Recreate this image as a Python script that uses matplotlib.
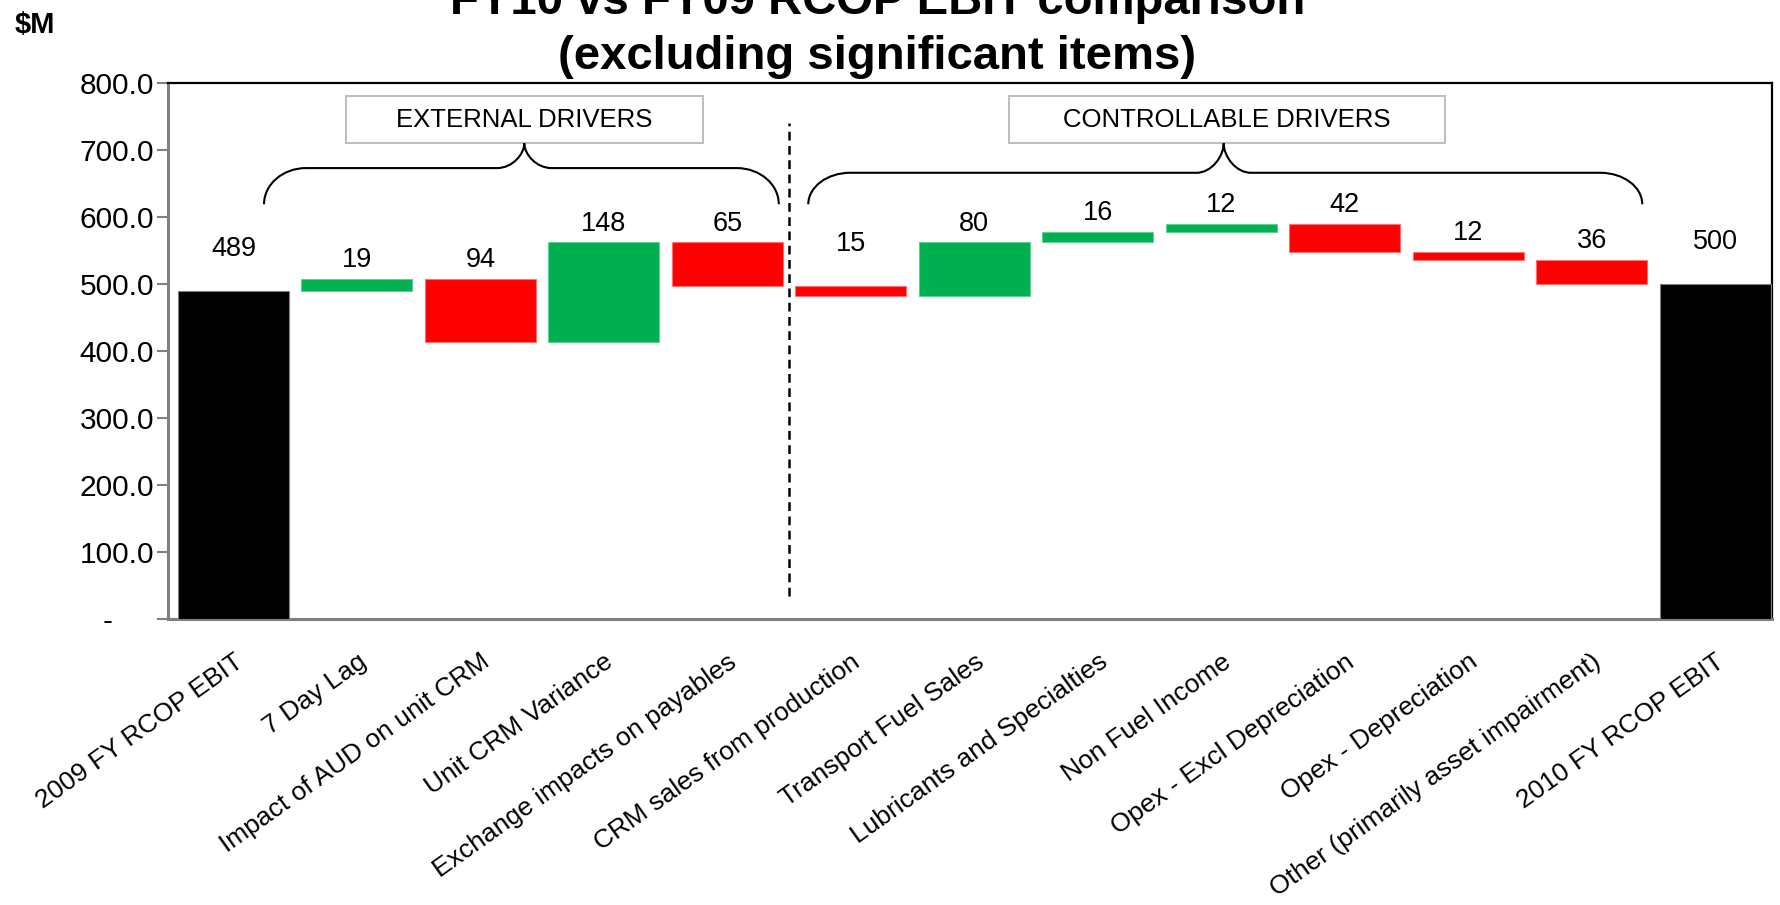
import matplotlib
matplotlib.use("Agg")
import matplotlib.pyplot as plt
from matplotlib.patches import Rectangle, PathPatch
from matplotlib.path import Path
from matplotlib.ticker import FuncFormatter
import numpy as np

plt.rcParams["font.family"] = ["Liberation Sans", "DejaVu Sans"]

# ---- data ----
categories = [
    "2009 FY RCOP EBIT", "7 Day Lag", "Impact of AUD on unit CRM",
    "Unit CRM Variance", "Exchange impacts on payables",
    "CRM sales from production", "Transport Fuel Sales",
    "Lubricants and Specialties", "Non Fuel Income",
    "Opex - Excl Depreciation", "Opex - Depreciation",
    "Other (primarily asset impairment)", "2010 FY RCOP EBIT",
]
start_total = 489
changes = [19, -94, 148, -65, -15, 80, 16, 12, -42, -12, -36]
end_total = 500
group_labels = ["EXTERNAL DRIVERS", "CONTROLLABLE DRIVERS"]
yticks = [0, 100, 200, 300, 400, 500, 600, 700, 800]

# ---- styling ----
GREEN = "#00B050"
RED = "#FF0000"
BLACK = "#000000"
EDGE = {GREEN: "#5FD08F", RED: "#FF7070", BLACK: "#7F7F7F"}

fig = plt.figure(figsize=(17.81, 9.05), dpi=100)
ax = fig.add_axes([0.0943, 0.316, 0.9006, 0.5923])

# build waterfall segments
bottoms, heights, colors, labels = [], [], [], []
bottoms.append(0); heights.append(start_total); colors.append(BLACK); labels.append(start_total)
level = start_total
for c in changes:
    lo = min(level, level + c)
    bottoms.append(lo); heights.append(abs(c))
    colors.append(GREEN if c > 0 else RED); labels.append(abs(c))
    level += c
bottoms.append(0); heights.append(end_total); colors.append(BLACK); labels.append(end_total)

x = np.arange(len(categories))
ax.bar(x, heights, bottom=bottoms, width=0.9, color=colors,
       edgecolor=[EDGE[c] for c in colors], linewidth=0.8, zorder=3)

# value labels above each bar
raised = {0, 5, len(categories) - 1}
for i, (b, h, v) in enumerate(zip(bottoms, heights, labels)):
    off = 63 if i in raised else 28
    ax.text(x[i], b + h + off, f"{v}", ha="center", va="center",
            fontsize=19.5, color="black", zorder=4)

# axes & ticks
ax.set_xlim(-0.53, 12.46)
ax.set_ylim(0, 800)
ax.set_yticks(yticks)
ax.yaxis.set_major_formatter(FuncFormatter(
    lambda v, p: "-     " if v == 0 else f"{v:.1f}"))
ax.tick_params(axis="y", labelsize=21.5, length=8, width=1.5,
               color="#808080", pad=2)
ax.set_xticks(x)
ax.set_xticklabels(categories, rotation=35.5, ha="right", va="top",
                   rotation_mode="anchor", fontsize=19)
ax.tick_params(axis="x", length=0, pad=22)

for side in ("left", "bottom"):
    ax.spines[side].set_color("#808080")
    ax.spines[side].set_linewidth(2.2)
for side in ("top", "right"):
    ax.spines[side].set_color("black")
    ax.spines[side].set_linewidth(1.6)

# divider between driver groups
ax.plot([4.5, 4.5], [34, 740], color="black", lw=1.8,
        dashes=(3.5, 2.2), zorder=2)

# group header boxes
def header(x0, x1, y0, y1, text):
    ax.add_patch(Rectangle((x0, y0), x1 - x0, y1 - y0, facecolor="white",
                           edgecolor="#BFBFBF", lw=1.5, zorder=3))
    ax.text((x0 + x1) / 2, (y0 + y1) / 2, text, ha="center", va="center",
            fontsize=18.5, color="black", zorder=4)

header(0.91, 3.80, 710, 780, group_labels[0])
header(6.28, 9.81, 710, 780, group_labels[1])

# curly braces grouping the drivers
def brace(x0, x1, xm, y_end, y_bar, y_tip, rx_end=0.34, rx_mid=0.22):
    k = 0.552
    verts = [
        (x0, y_end),
        (x0, y_end + k * (y_bar - y_end)), (x0 + rx_end * (1 - k), y_bar), (x0 + rx_end, y_bar),
        (xm - rx_mid, y_bar),
        (xm - rx_mid * (1 - k), y_bar), (xm, y_bar + k * (y_tip - y_bar)), (xm, y_tip),
        (xm, y_bar + k * (y_tip - y_bar)), (xm + rx_mid * (1 - k), y_bar), (xm + rx_mid, y_bar),
        (x1 - rx_end, y_bar),
        (x1 - rx_end * (1 - k), y_bar), (x1, y_end + k * (y_bar - y_end)), (x1, y_end),
    ]
    codes = ([Path.MOVETO] + [Path.CURVE4] * 3 + [Path.LINETO] +
             [Path.CURVE4] * 6 + [Path.LINETO] + [Path.CURVE4] * 3)
    ax.add_patch(PathPatch(Path(verts, codes), facecolor="none",
                           edgecolor="black", lw=1.5, zorder=3))

brace(0.248, 4.417, 2.356, 619, 673, 710)
brace(4.656, 11.41, 8.02, 619, 666, 710)

# titles
fig.text(0.4925, 0.9127,
         "FY10 vs FY09 RCOP EBIT comparison\n(excluding significant items)",
         ha="center", va="bottom", fontsize=34, fontweight="bold",
         linespacing=1.32)
fig.text(0.008, 1 - 25 / 905, "$M", ha="left", va="center",
         fontsize=21, fontweight="bold")

fig.savefig("out.png", dpi=100)
